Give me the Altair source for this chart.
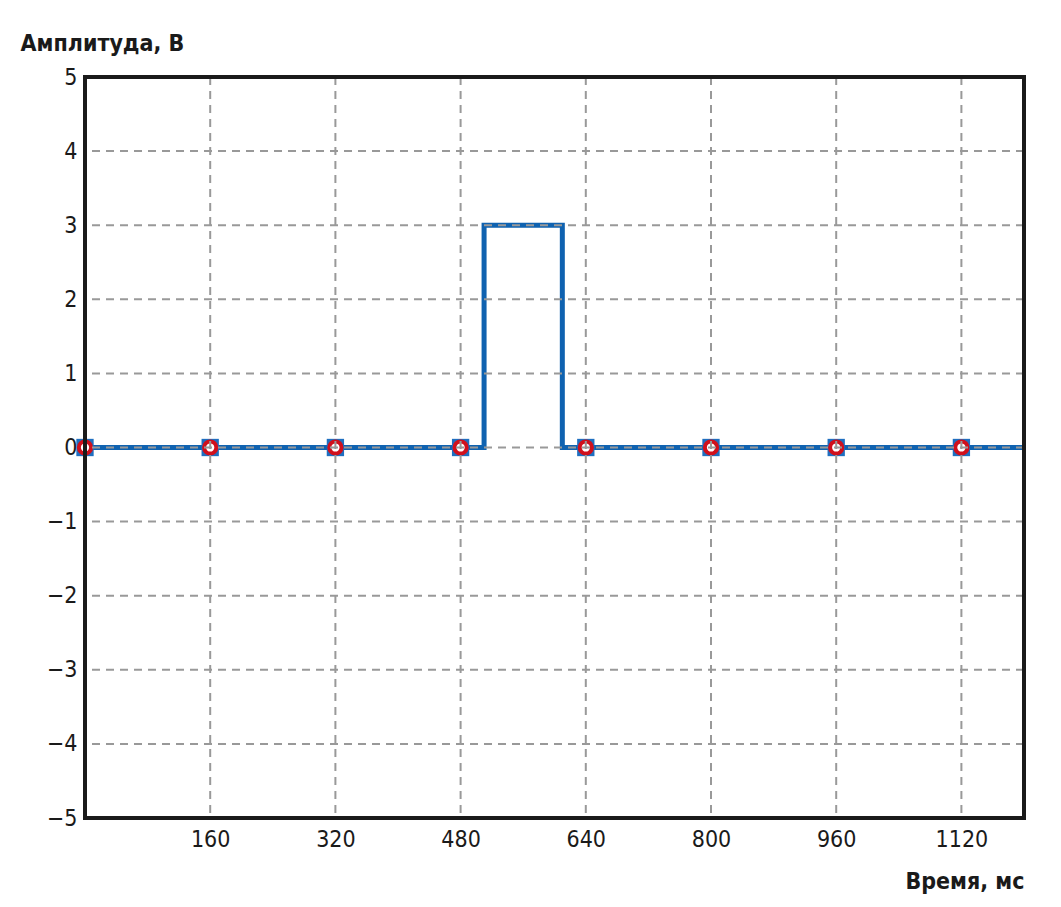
import altair as alt
import pandas as pd

# signal (step pulse)
sig_t = [0, 510, 510, 610, 610, 1200]
sig_v = [0, 0, 3, 3, 0, 0]
# markers
mark_t = [0, 160, 320, 480, 640, 800, 960, 1120]
mark_v = [0, 0, 0, 0, 0, 0, 0, 0]
x_ticks = [160, 320, 480, 640, 800, 960, 1120]
y_ticks = [-5, -4, -3, -2, -1, 0, 1, 2, 3, 4, 5]
y_grid = [-4, -3, -2, -1, 0, 1, 2, 3, 4]

sig = pd.DataFrame({"t": sig_t, "v": sig_v, "o": list(range(len(sig_t)))})
mk = pd.DataFrame({"t": mark_t, "v": mark_v})
xg = pd.DataFrame({"t": x_ticks})
yg = pd.DataFrame({"v": y_grid})

FONT = "DejaVu Sans Condensed, Roboto, sans-serif"
INK = "#1a1a1a"
GRID = "#999999"

xs = alt.Scale(domain=[0, 1200], nice=False, zero=False)
ys = alt.Scale(domain=[-5, 5], nice=False)

xax = alt.Axis(values=x_ticks, format="d", title="Время, мс", titleAngle=0, titleAlign="right",
               titleBaseline="alphabetic", titleX=939, titleY=70, titleFont=FONT,
               titleFontSize=23, titleFontWeight="bold", titleColor=INK, labelFont=FONT,
               labelFontSize=23, labelColor=INK, labelPadding=10, ticks=False, domain=False,
               grid=False)
yax = alt.Axis(values=y_ticks, format="d", title="Амплитуда, В", titleAngle=0, titleAlign="left",
               titleBaseline="alphabetic", titleX=-65, titleY=-27, titleFont=FONT,
               titleFontSize=23, titleFontWeight="bold", titleColor=INK,
               labelFont=FONT, labelFontSize=23, labelColor=INK, labelPadding=8,
               ticks=False, domain=False, grid=False)

line = alt.Chart(sig).mark_line(color="#0f62b0", strokeWidth=5, strokeCap="square", clip=True).encode(
    x=alt.X("t:Q", scale=xs, axis=xax),
    y=alt.Y("v:Q", scale=ys, axis=yax),
    order="o:Q",
)

sq = alt.Chart(mk).mark_square(color="#1f6fc0", opacity=1, size=300).encode(
    x=alt.X("t:Q", scale=xs), y=alt.Y("v:Q", scale=ys)
)
circ = alt.Chart(mk).mark_point(shape="circle", filled=False, stroke="#d0101c", fill="#ffffff",
                                fillOpacity=1, strokeWidth=4, size=150, opacity=1).encode(
    x=alt.X("t:Q", scale=xs), y=alt.Y("v:Q", scale=ys)
)

vgrid = alt.Chart(xg).mark_rule(color=GRID, strokeWidth=2, strokeDash=[8, 6]).encode(
    x=alt.X("t:Q", scale=xs)
)
hgrid = alt.Chart(yg).mark_rule(color=GRID, strokeWidth=2, strokeDash=[8, 6]).encode(
    y=alt.Y("v:Q", scale=ys)
)

border = alt.Chart(mk).mark_rect(fill=None, stroke=INK, strokeWidth=4).encode(
    x=alt.value(0), x2=alt.value(939), y=alt.value(0), y2=alt.value(741)
)

chart = alt.layer(line, sq, circ, vgrid, hgrid, border).properties(width=939, height=741).configure(
    padding={"left": 77, "top": 69, "right": 29, "bottom": 85}, background="#ffffff",
    autosize=alt.AutoSizeParams(type="none"),
    view=alt.ViewConfig(stroke=None),
)

chart.save("out.html", embed_options={"renderer": "svg", "actions": False})
